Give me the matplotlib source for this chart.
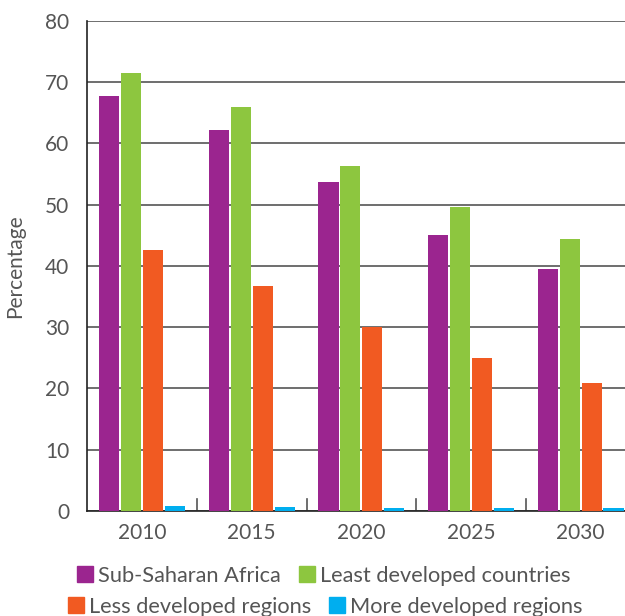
import numpy as np
import matplotlib.pyplot as plt
from matplotlib.patches import Patch

years = ['2010', '2015', '2020', '2025', '2030']
ssa = [67.8, 62.2, 53.7, 45.1, 39.5]
ldc = [71.5, 66.0, 56.3, 49.6, 44.4]
less_dev = [42.6, 36.7, 30.0, 25.0, 20.9]
more_dev = [0.8, 0.6, 0.5, 0.5, 0.5]

series = [ssa, ldc, less_dev, more_dev]
labels = ['Sub-Saharan Africa', 'Least developed countries',
          'Less developed regions', 'More developed regions']
colors = ['#9B258F', '#8DC63F', '#F15A22', '#00AEEF']

plt.rcParams['font.family'] = ['Lato', 'DejaVu Sans']
txt = '#555555'
fs = 15
lfs = 15.7

fig = plt.figure(figsize=(6.25, 6.16), dpi=100)
ax = fig.add_axes([0.1397, 0.1705, 0.8603, 0.7955])

x = np.arange(len(years))
offsets = [-0.3, -0.1, 0.1, 0.3]
for vals, off, c in zip(series, offsets, colors):
    ax.bar(x + off, vals, width=0.183, color=c, zorder=3)

ax.set_ylim(0, 80)
ax.set_xlim(-0.5, 4.405)
ax.set_yticks(range(0, 81, 10))
ax.yaxis.grid(True, color='#555555', linewidth=1.2, zorder=1)
ax.tick_params(axis='y', length=0, labelsize=fs, labelcolor=txt, pad=13)
ax.set_xticks(x)
ax.set_xticklabels(years)
ax.tick_params(axis='x', length=0, labelsize=fs, labelcolor=txt, pad=9)
# group separator ticks
for b in np.arange(0.5, 4.0, 1.0):
    ax.plot([b, b], [0, 2.0], color='#555555', linewidth=1.2, zorder=2)

for s in ['top', 'right']:
    ax.spines[s].set_visible(False)
ax.spines['left'].set_color('#222222')
ax.spines['bottom'].set_color('#222222')
ax.spines['left'].set_linewidth(1.2)
ax.spines['bottom'].set_linewidth(1.2)

ax.set_ylabel('Percentage', fontsize=fs, color=txt)
ax.yaxis.set_label_coords(-0.116, 0.5)

handles = [Patch(color=c) for c in colors]
common = dict(ncol=2, loc='center left', frameon=False, fontsize=lfs,
              handlelength=0.74, handleheight=0.74, handletextpad=0.24,
              borderpad=0, borderaxespad=0, labelcolor=txt)
fig.legend(handles[:2], labels[:2], bbox_to_anchor=(0.123, 0.065),
           columnspacing=0.83, **common)
fig.legend(handles[2:], labels[2:], bbox_to_anchor=(0.109, 0.0146),
           columnspacing=0.78, **common)

fig.savefig('out.png', dpi=100)
